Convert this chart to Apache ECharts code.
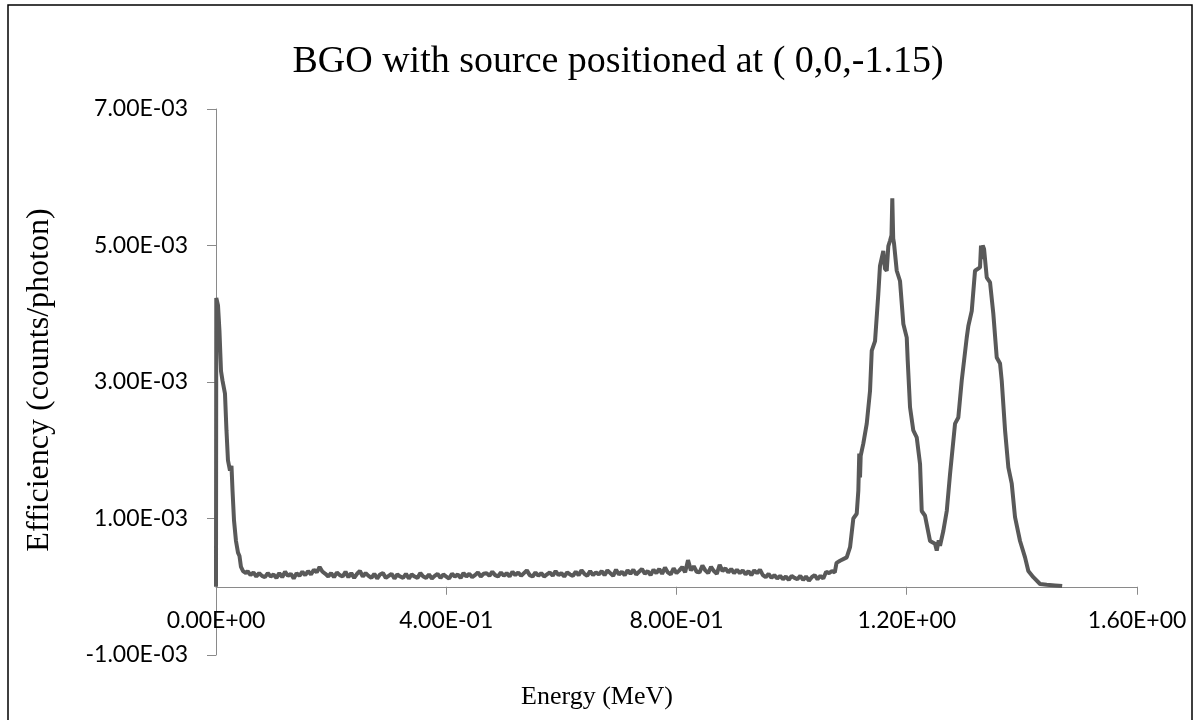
<!DOCTYPE html>
<html>
<head>
<meta charset="utf-8">
<script src="https://cdn.jsdelivr.net/npm/echarts@6/dist/echarts.min.js"></script>
<style>
html,body{margin:0;padding:0;background:#fff;}
#chart{width:1197px;height:720px;}
</style>
</head>
<body>
<div id="chart"></div>
<script>
// Energy (MeV) vs efficiency (counts/photon)
const lowPeak = [
[0,0],[0.0005,4.23e-3],[0.0035,4.12e-3],[0.006,3.75e-3],[0.0087,3.16e-3],[0.0113,3.02e-3],
[0.0156,2.83e-3],[0.0182,2.29e-3],[0.0208,1.85e-3],[0.0243,1.70e-3],[0.0269,1.77e-3],
[0.0287,1.41e-3],[0.0313,0.97e-3],[0.0347,0.67e-3],[0.0382,0.50e-3],[0.0408,0.45e-3],
[0.0434,0.29e-3],[0.047,0.23e-3],[0.052,0.20e-3]
];
const plateau = [
[0.055,2.3e-4],[0.060,1.7e-4],[0.065,2.1e-4],[0.070,1.5e-4],[0.075,2.0e-4],[0.080,1.6e-4],
[0.085,1.4e-4],[0.090,2.0e-4],[0.095,1.5e-4],[0.100,1.8e-4],[0.105,1.3e-4],[0.110,2.0e-4],
[0.115,1.4e-4],[0.120,2.2e-4],[0.125,1.6e-4],[0.130,1.9e-4],[0.135,1.2e-4],[0.140,2.0e-4],
[0.145,1.6e-4],[0.150,2.2e-4],[0.155,1.7e-4],[0.160,2.3e-4],[0.165,1.8e-4],[0.170,2.5e-4],
[0.175,2.1e-4],[0.180,2.9e-4],[0.185,2.2e-4],[0.190,1.9e-4],[0.195,1.5e-4],[0.200,2.0e-4],
[0.205,1.4e-4],[0.210,2.1e-4],[0.215,1.7e-4],[0.220,1.5e-4],[0.225,2.2e-4],[0.230,1.4e-4],
[0.235,2.0e-4],[0.240,1.3e-4],[0.245,1.9e-4],[0.250,2.3e-4],[0.255,1.5e-4],[0.260,2.0e-4],
[0.265,1.6e-4],[0.270,1.3e-4],[0.275,1.9e-4],[0.280,1.2e-4],[0.285,1.8e-4],[0.290,2.0e-4],
[0.295,1.3e-4],[0.300,1.6e-4],[0.305,1.9e-4],[0.310,1.2e-4],[0.315,1.8e-4],[0.320,1.5e-4],
[0.325,1.3e-4],[0.330,1.9e-4],[0.335,1.2e-4],[0.340,1.8e-4],[0.345,1.5e-4],[0.350,1.3e-4],
[0.355,2.0e-4],[0.360,1.5e-4],[0.365,1.3e-4],[0.370,1.8e-4],[0.375,1.2e-4],[0.380,1.6e-4],
[0.385,1.9e-4],[0.390,1.3e-4],[0.395,1.8e-4],[0.400,1.5e-4],[0.405,1.2e-4],[0.410,1.9e-4],
[0.415,1.5e-4],[0.420,1.8e-4],[0.425,1.3e-4],[0.430,2.0e-4],[0.435,1.5e-4],[0.440,1.9e-4],
[0.445,1.4e-4],[0.450,1.7e-4],[0.455,2.1e-4],[0.460,1.5e-4],[0.465,1.9e-4],[0.470,2.0e-4],
[0.475,1.6e-4],[0.480,2.2e-4],[0.485,1.7e-4],[0.490,1.5e-4],[0.495,2.1e-4],[0.500,1.6e-4],
[0.505,2.0e-4],[0.510,1.5e-4],[0.515,2.2e-4],[0.520,1.7e-4],[0.525,2.1e-4],[0.530,1.6e-4],
[0.535,2.0e-4],[0.540,2.4e-4],[0.545,1.7e-4],[0.550,1.5e-4],[0.555,2.1e-4],[0.560,1.6e-4],
[0.565,2.0e-4],[0.570,1.5e-4],[0.575,1.8e-4],[0.580,2.1e-4],[0.585,1.6e-4],[0.590,2.3e-4],
[0.595,1.7e-4],[0.600,2.0e-4],[0.605,1.5e-4],[0.610,2.1e-4],[0.615,1.8e-4],[0.620,1.6e-4],
[0.625,2.2e-4],[0.630,1.7e-4],[0.635,2.4e-4],[0.640,1.9e-4],[0.645,1.6e-4],[0.650,2.3e-4],
[0.655,1.7e-4],[0.660,2.1e-4],[0.665,1.8e-4],[0.670,2.3e-4],[0.675,1.7e-4],[0.680,2.4e-4],
[0.685,2.0e-4],[0.690,1.6e-4],[0.695,2.5e-4],[0.700,1.8e-4],[0.705,2.2e-4],[0.710,1.7e-4],
[0.715,2.4e-4],[0.720,1.9e-4],[0.725,2.5e-4],[0.730,1.8e-4],[0.735,2.2e-4],[0.740,2.6e-4],
[0.745,1.9e-4],[0.750,2.3e-4],[0.755,1.7e-4],[0.760,2.5e-4],[0.765,2.0e-4],[0.770,2.6e-4],
[0.775,1.9e-4],[0.780,2.8e-4],[0.785,2.1e-4],[0.790,1.8e-4],[0.795,2.7e-4],[0.800,2.0e-4],
[0.805,2.4e-4],[0.810,2.9e-4],[0.815,2.1e-4],[0.820,3.9e-4],[0.825,2.4e-4],[0.830,3.0e-4],
[0.835,2.2e-4],[0.840,2.1e-4],[0.845,3.1e-4],[0.850,2.4e-4],[0.855,2.0e-4],[0.860,2.9e-4],
[0.865,2.3e-4],[0.870,1.9e-4],[0.875,3.2e-4],[0.880,2.3e-4],[0.885,2.7e-4],[0.890,2.1e-4],
[0.895,2.6e-4],[0.900,2.0e-4],[0.905,2.5e-4],[0.910,2.0e-4],[0.915,2.4e-4],[0.920,1.8e-4],
[0.925,2.3e-4],[0.930,1.7e-4],[0.935,2.4e-4],[0.940,2.0e-4],[0.945,2.5e-4],[0.950,1.7e-4],
[0.955,1.4e-4],[0.960,1.9e-4],[0.965,1.3e-4],[0.970,1.7e-4],[0.975,1.2e-4],[0.980,1.6e-4],
[0.985,1.1e-4],[0.990,1.5e-4],[0.995,1.0e-4],[1.000,1.6e-4],[1.005,1.3e-4],[1.010,1.1e-4],
[1.015,1.6e-4],[1.020,1.0e-4],[1.025,1.5e-4],[1.030,0.9e-4],[1.035,1.4e-4],[1.040,1.7e-4],
[1.045,1.1e-4],[1.050,1.6e-4],[1.055,1.2e-4],[1.060,2.2e-4],[1.065,2.0e-4],[1.070,2.3e-4],
[1.075,2.1e-4],[1.078,3.5e-4]
];
const highPeaks = [
[1.0841,0.38e-3],[1.0957,0.43e-3],[1.1015,0.58e-3],[1.1072,1.00e-3],[1.1131,1.07e-3],
[1.1159,1.41e-3],[1.1175,1.95e-3],[1.1188,1.60e-3],[1.1200,1.92e-3],[1.1246,2.10e-3],
[1.1305,2.39e-3],[1.1362,2.87e-3],[1.1392,3.46e-3],[1.1449,3.60e-3],[1.1506,4.29e-3],
[1.1535,4.70e-3],[1.1593,4.92e-3],[1.1622,4.66e-3],[1.1652,4.63e-3],[1.1680,4.99e-3],
[1.1709,5.07e-3],[1.1735,5.15e-3],[1.1749,5.69e-3],[1.1765,5.10e-3],[1.1779,5.03e-3],
[1.1826,4.63e-3],[1.1883,4.48e-3],[1.1941,3.85e-3],[1.2000,3.65e-3],[1.2017,3.31e-3],
[1.2057,2.63e-3],[1.2114,2.29e-3],[1.2173,2.19e-3],[1.2231,1.80e-3],[1.2260,1.11e-3],
[1.2318,1.04e-3],[1.2405,0.67e-3],[1.2491,0.63e-3],[1.2521,0.53e-3],[1.2555,0.68e-3],
[1.2578,0.60e-3],[1.2636,0.82e-3],[1.2695,1.11e-3],[1.2752,1.65e-3],[1.2839,2.39e-3],
[1.2896,2.48e-3],[1.2955,3.02e-3],[1.3042,3.65e-3],[1.3070,3.82e-3],[1.3129,4.04e-3],
[1.3186,4.63e-3],[1.3273,4.68e-3],[1.3290,5.00e-3],[1.3303,4.80e-3],[1.3320,5.00e-3],
[1.3343,4.95e-3],[1.3390,4.53e-3],[1.3447,4.46e-3],[1.3504,4.00e-3],[1.3563,3.36e-3],
[1.3621,3.27e-3],[1.3650,3.02e-3],[1.3708,2.29e-3],[1.3765,1.75e-3],[1.3824,1.51e-3],
[1.3881,1.02e-3],[1.3968,0.67e-3],[1.4055,0.43e-3],[1.4112,0.23e-3],[1.4199,0.14e-3],
[1.4316,0.04e-3],[1.4432,0.03e-3],[1.4576,0.02e-3],[1.4700,0.01e-3]
];
const chartTitle = 'BGO with source positioned at ( 0,0,-1.15)';
const xTitle = 'Energy (MeV)';
const yTitle = 'Efficiency (counts/photon)';

function sci(v){
  if (Math.abs(v) < 1e-12) v = 0;
  const s = v.toExponential(2);
  const parts = s.split('e');
  const sign = parts[1][0] === '-' ? '-' : '+';
  let d = parts[1].replace(/[+-]/, '');
  if (d.length < 2) d = '0' + d;
  return parts[0] + 'E' + sign + d;
}

const chart = echarts.init(document.getElementById('chart'), null, {renderer:'canvas'});
const axisGray = '#8a8a8a';
const tickFont = 'Lato';
const gridTop = 109, gridBottom = 65, chartH = 720;
const yMin = -0.001, yMax = 0.007;
// place the x axis where y = 0 on the value scale
const plotH = chartH - gridTop - gridBottom;
const zeroOffset = -plotH * (0 - yMin) / (yMax - yMin);
chart.setOption({
  animation: false,
  backgroundColor: '#ffffff',
  grid: {left: 216, right: 60, top: gridTop, bottom: gridBottom, containLabel: false},
  xAxis: {
    type: 'value', min: 0, max: 1.6, interval: 0.4,
    offset: zeroOffset,
    axisLine: {show: true, onZero: false, lineStyle: {color: axisGray, width: 1}},
    axisTick: {show: true, inside: false, length: 8, lineStyle: {color: axisGray}},
    axisLabel: {formatter: sci, color: '#000', fontFamily: tickFont, fontSize: 23, margin: 22},
    splitLine: {show: false}
  },
  yAxis: {
    type: 'value', min: yMin, max: yMax, interval: 0.002,
    axisLine: {show: true, onZero: false, lineStyle: {color: axisGray, width: 1}},
    axisTick: {show: true, inside: false, length: 9, lineStyle: {color: axisGray}},
    axisLabel: {formatter: sci, color: '#000', fontFamily: tickFont, fontSize: 23, margin: 28},
    splitLine: {show: false}
  },
  series: [{
    type: 'line',
    data: lowPeak.concat(plateau, highPeaks),
    showSymbol: false,
    symbol: 'none',
    lineStyle: {color: '#595959', width: 4},
    clip: false
  }],
  graphic: [
    {type: 'rect', shape: {x: 8, y: 5, width: 1184, height: 730}, style: {fill: 'none', stroke: '#000', lineWidth: 1.5}, silent: true},
    {type: 'text', x: 618, y: 62, style: {text: chartTitle, font: '38px "Liberation Serif"', fill: '#000', align: 'center', verticalAlign: 'middle'}},
    {type: 'text', x: 597, y: 697, style: {text: xTitle, font: '26px "Liberation Serif"', fill: '#000', align: 'center', verticalAlign: 'middle'}},
    {type: 'text', x: 40, y: 380, rotation: Math.PI/2, style: {text: yTitle, font: '32px "Liberation Serif"', fill: '#000', align: 'center', verticalAlign: 'middle'}}
  ]
});
</script>
</body>
</html>
